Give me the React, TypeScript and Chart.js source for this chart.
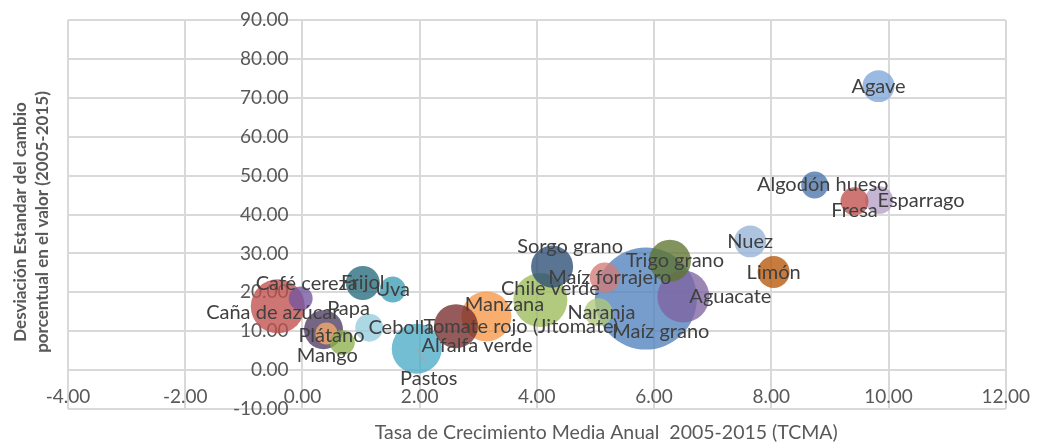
import React, { useEffect, useRef } from "react";
import { Chart, registerables } from "chart.js";

Chart.register(...registerables);

// ---- Data ----
const crops = [
  "Maíz grano", "Caña de azúcar", "Chile verde", "Aguacate", "Pastos", "Manzana",
  "Sorgo grano", "Alfalfa verde", "Tomate rojo (Jitomate)", "Trigo grano", "Papa", "Frijol", "Limón",
  "Nuez", "Maíz forrajero", "Naranja", "Esparrago", "Cebolla", "Plátano",
  "Algodón hueso", "Fresa", "Agave", "Café cereza", "Uva", "Mango",
];
// TCMA 2005-2015 (x)
const tcma = [
  5.86, -0.42, 4.06, 6.50, 1.95, 3.14,
  4.26, 2.98, 2.62, 6.27, 0.36, 1.03, 8.04,
  7.64, 5.16, 5.05, 9.84, 1.14, 0.41,
  8.74, 9.42, 9.83, -0.03, 1.54, 0.68,
];
// Desviación estándar (y)
const desviacion = [
  18.4, 16.4, 18.0, 18.9, 5.5, 13.8,
  26.6, 6.3, 11.3, 28.1, 10.4, 22.4, 25.2,
  33.1, 23.8, 14.9, 43.7, 10.9, 9.4,
  47.6, 43.4, 73.0, 18.4, 20.7, 7.1,
];
// bubble size (relative value, area-proportional; 0 = not drawn)
const tamano = [
  100, 28.0, 28.0, 26.0, 24.0, 24.0,
  17.0, 0, 18.6, 17.0, 14.6, 11.1, 9.8,
  9.8, 8.7, 7.5, 7.5, 7.5, 4.7,
  7.0, 7.5, 9.8, 5.5, 6.5, 6.0,
];

const xTicks = [-4, -2, 0, 2, 4, 6, 8, 10, 12];
const yTicks = [-10, 0, 10, 20, 30, 40, 50, 60, 70, 80, 90];

const xTitle = "Tasa de Crecimiento Media Anual  2005-2015 (TCMA)";
const yTitleLines = ["Desviación Estandar del cambio", "porcentual en el valor (2005-2015)"];

// ---- Styles ----
const colors = [
  "#4F81BD", "#C0504D", "#9BBB59", "#8064A2", "#4BACC6", "#F79646",
  "#2C4D75", "#4BACC6", "#772C2A", "#5F7530", "#4D3B62", "#276A7C", "#B65708",
  "#95B3D7", "#D47B79", "#AFC97A", "#B3A2C7", "#93CDDD", "#F9AB6B",
  "#4A75A8", "#C0504D", "#7DA6DA", "#7356A0", "#3D9DB5", "#8DB04B",
];
// label offsets in px relative to bubble centre
const labelOffsets: [number, number][] = [
  [15, 33], [-5, 6], [10, -12], [47, 0], [12, 30], [18, -12],
  [18, -20], [0, 0], [65, 0], [5, 0], [25, -21], [0, 0], [0, 0],
  [0, 0], [5, 0], [3, 0], [42, 0], [32, 0], [5, 2],
  [8, 0], [0, 9], [0, 0], [6, -15], [0, 0], [-15, 13],
];
const leaderLines: Record<string, [number, number]> = { Pastos: [9, 13] };

const MAX_R = 51;
const FONT = "Lato";
const Y_LABEL_GAP = 0.236; // data units between y-axis tick labels and the x=0 line

function withAlpha(hex: string, a: number) {
  const n = parseInt(hex.slice(1), 16);
  return `rgba(${(n >> 16) & 255},${(n >> 8) & 255},${n & 255},${a})`;
}

const labelPlugin = {
  id: "bubbleLabels",
  afterDatasetsDraw(chart: any) {
    const ctx = chart.ctx;
    const meta = chart.getDatasetMeta(0);
    ctx.save();
    meta.data.forEach((el: any, i: number) => {
      const ll = leaderLines[crops[i]];
      if (ll) {
        ctx.strokeStyle = "#A6A6A6";
        ctx.lineWidth = 1.2;
        ctx.beginPath();
        ctx.moveTo(el.x, el.y);
        ctx.lineTo(el.x + ll[0], el.y + ll[1]);
        ctx.stroke();
      }
    });
    ctx.font = `20px ${FONT}`;
    ctx.fillStyle = "#404040";
    ctx.textAlign = "center";
    ctx.textBaseline = "middle";
    meta.data.forEach((el: any, i: number) => {
      const [dx, dy] = labelOffsets[i];
      ctx.fillText(crops[i], el.x + dx, el.y + dy);
    });
    ctx.restore();
  },
  afterDraw(chart: any) {
    const ctx = chart.ctx;
    const area = chart.chartArea;
    ctx.save();
    ctx.fillStyle = "#595959";
    ctx.textAlign = "center";
    ctx.textBaseline = "middle";
    ctx.font = `19.5px ${FONT}`;
    ctx.fillText(xTitle, area.left + (area.right - area.left) * 0.574, 433);
    ctx.font = `bold 17px ${FONT}`;
    ctx.translate(21, 222);
    ctx.rotate(-Math.PI / 2);
    ctx.fillText(yTitleLines[0], 0, 0);
    ctx.fillText(yTitleLines[1], 0, 22);
    ctx.restore();
  },
};

export default function App() {
  const ref = useRef<HTMLCanvasElement | null>(null);
  useEffect(() => {
    if (!ref.current) return;
    const data = crops.map((_, i) => ({
      x: tcma[i],
      y: desviacion[i],
      r: MAX_R * Math.sqrt(tamano[i] / 100),
    }));
    const chart = new Chart(ref.current, {
      type: "bubble",
      data: {
        datasets: [
          {
            label: "Cultivos",
            data,
            backgroundColor: colors.map((c) => withAlpha(c, 0.78)),
            borderWidth: 0,
            radius: 0,
          },
        ],
      },
      options: {
        animation: false,
        responsive: true,
        maintainAspectRatio: false,
        layout: { autoPadding: false, padding: { left: 68, right: 30, top: 20, bottom: 34 } },
        plugins: { legend: { display: false }, tooltip: { enabled: false } },
        scales: {
          x: {
            type: "linear",
            min: xTicks[0],
            max: xTicks[xTicks.length - 1],
            position: { y: 0 } as any,
            afterBuildTicks: (s: any) => { s.ticks = xTicks.map((v) => ({ value: v })); },
            ticks: {
              callback: (v: any) => Number(v).toFixed(2),
              color: "#595959",
              font: { family: FONT, size: 19 },
              padding: 15,
              maxRotation: 0,
              autoSkip: false,
            },
            grid: { color: "#D9D9D9", lineWidth: 2, drawTicks: false },
            border: { color: "#D9D9D9", width: 2 },
          },
          y: {
            type: "linear",
            min: yTicks[0],
            max: yTicks[yTicks.length - 1],
            position: { x: -Y_LABEL_GAP } as any,
            afterBuildTicks: (s: any) => { s.ticks = yTicks.map((v) => ({ value: v })); },
            ticks: {
              callback: (v: any) => Number(v).toFixed(2),
              color: "#595959",
              font: { family: FONT, size: 19 },
              padding: 0,
              autoSkip: false,
            },
            grid: { color: "#D9D9D9", lineWidth: 2, drawTicks: false },
            border: { display: false },
          },
        },
      },
      plugins: [labelPlugin],
    });
    return () => chart.destroy();
  }, []);
  return (
    <div style={{ position: "fixed", left: 0, top: 0, width: 1045, height: 443, background: "#fff" }}>
      <canvas ref={ref} />
    </div>
  );
}
